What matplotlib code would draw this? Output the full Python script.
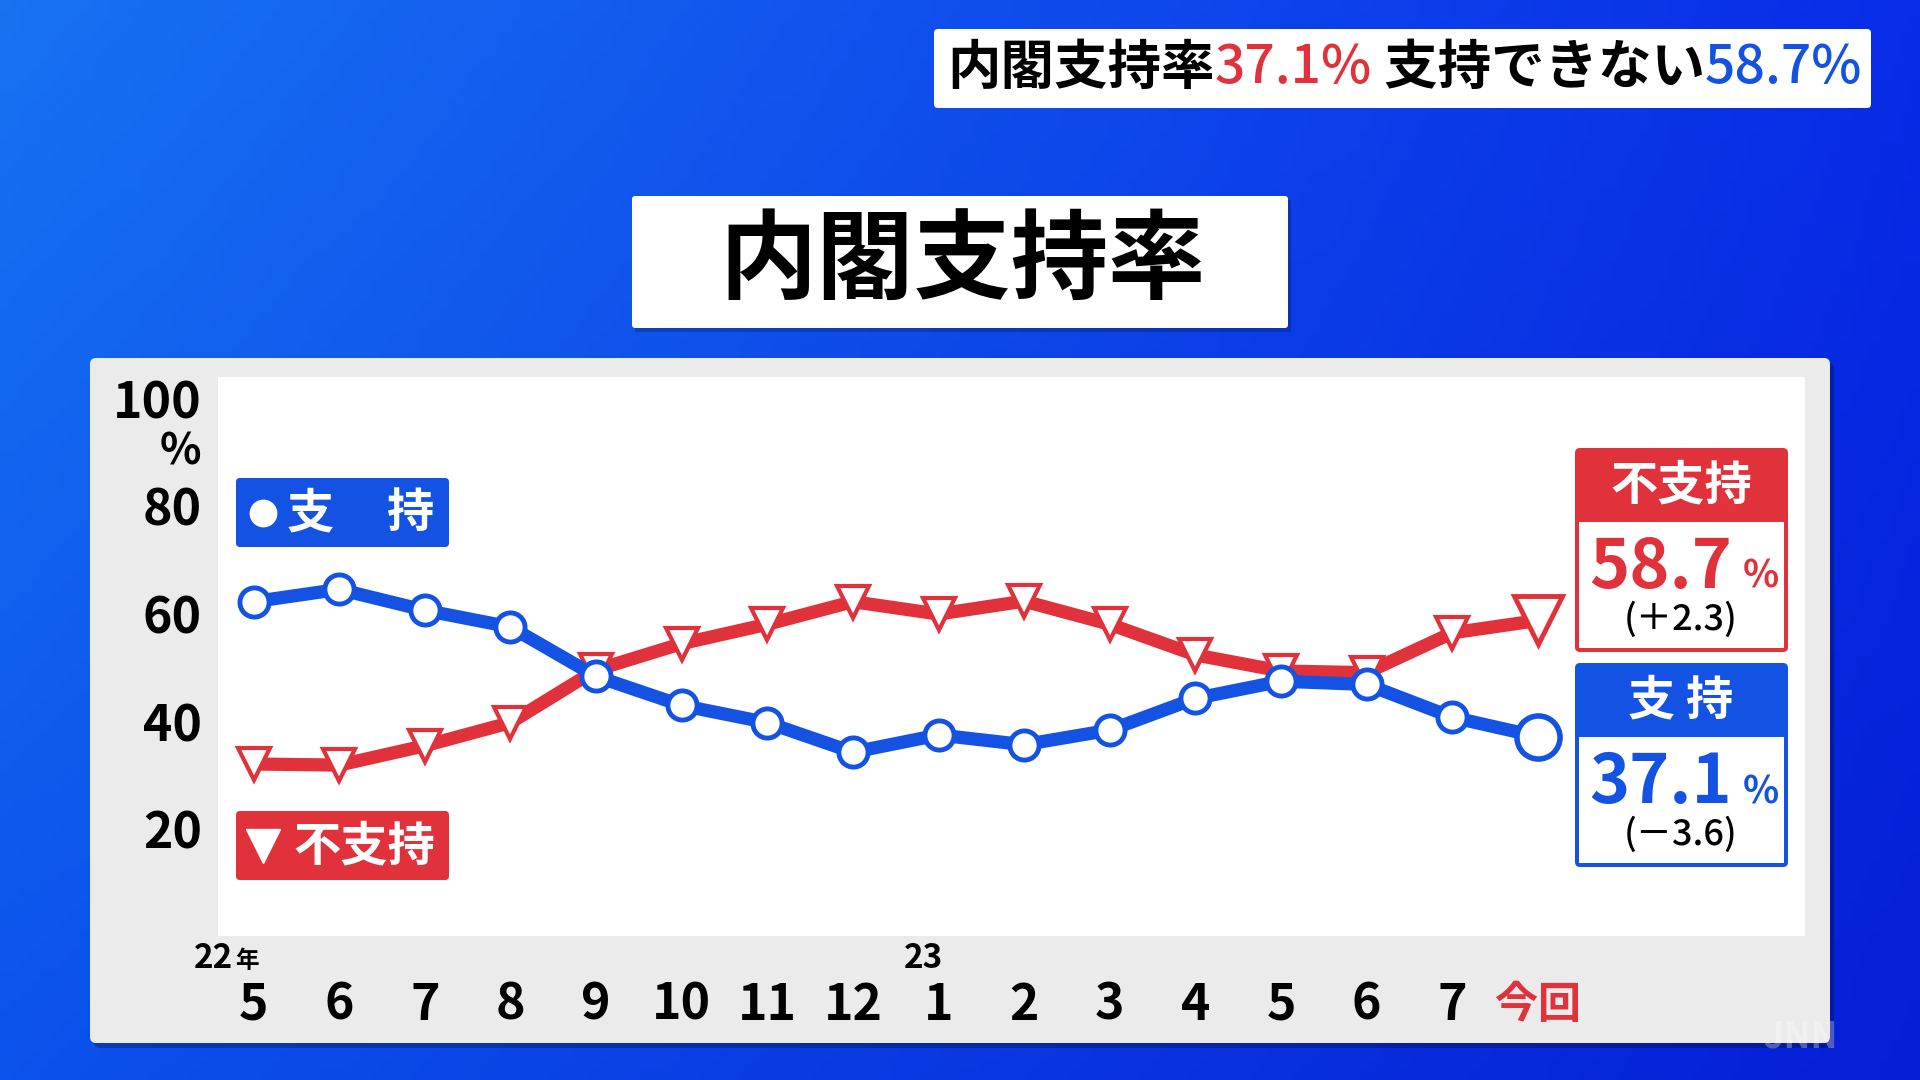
import numpy as np
import matplotlib.pyplot as plt
from matplotlib.patches import FancyBboxPatch, Rectangle

plt.rcParams['font.family'] = ['Noto Sans CJK JP', 'DejaVu Sans']

# ------------------------------------------------------------
# データ
# ------------------------------------------------------------
months = ["5", "6", "7", "8", "9", "10", "11", "12",
          "1", "2", "3", "4", "5", "6", "7", "今回"]
year_pos = [0, 8]
year_text = ["22", "23"]

support = [62.2, 64.5, 60.6, 57.5, 48.3, 42.9, 39.7, 34.2,
           37.4, 35.6, 38.3, 44.2, 47.4, 46.8, 40.7, 37.1]
disapprove = [32.0, 31.8, 35.4, 39.7, 49.5, 54.4, 58.0, 62.2,
              59.9, 62.3, 58.0, 52.3, 49.3, 49.0, 56.4, 58.7]

BLUE = "#1352e2"
RED = "#e1313b"
GRAY = "#ebebeb"

W, H = 1920, 1080

fig = plt.figure(figsize=(19.2, 10.8), dpi=100)

# ------------------------------------------------------------
# 背景 (青のグラデーション)
# ------------------------------------------------------------
bg = fig.add_axes([0, 0, 1, 1], zorder=0)
gx, gy = np.meshgrid(np.linspace(0, 1, 192), np.linspace(0, 1, 108))
c_tl = np.array([24, 114, 242])
c_tr = np.array([8, 44, 232])
c_bl = np.array([12, 82, 236])
c_br = np.array([6, 30, 215])
img = (c_tl * ((1 - gx) * (1 - gy))[..., None] + c_tr * (gx * (1 - gy))[..., None]
       + c_bl * ((1 - gx) * gy)[..., None] + c_br * (gx * gy)[..., None]) / 255
bg.imshow(img, extent=(0, W, H, 0), aspect='auto', zorder=0)
bg.set_xlim(0, W)
bg.set_ylim(H, 0)
bg.axis('off')

# パネル
bg.add_patch(FancyBboxPatch((94, 363), 1740, 685, boxstyle="round,pad=0,rounding_size=6",
                            fc="black", ec="none", alpha=0.25, zorder=1))
bg.add_patch(FancyBboxPatch((90, 358), 1740, 685, boxstyle="round,pad=0,rounding_size=6",
                            fc=GRAY, ec="none", zorder=2))

# タイトル
bg.add_patch(Rectangle((635, 200), 656, 132, fc="black", ec="none", alpha=0.2, zorder=2))
bg.add_patch(FancyBboxPatch((632, 196), 656, 132, boxstyle="round,pad=0,rounding_size=3",
                            fc="white", ec="none", zorder=3))
bg.text(962, 262, "内閣支持率", fontsize=70, fontweight='bold', color='black',
        ha='center', va='center', zorder=4)

# 右上の見出し
bg.add_patch(FancyBboxPatch((934, 29), 937, 79, boxstyle="round,pad=0,rounding_size=4",
                            fc="white", ec="none", zorder=3))
pieces = [("内閣支持率", "black", "bold"),
          (f"{support[-1]:.1f}%", RED, "medium"),
          (" 支持できない", "black", "bold"),
          (f"{disapprove[-1]:.1f}%", BLUE, "medium")]
t = bg.text(947, 68, pieces[0][0], fontsize=38.5, fontweight=pieces[0][2], color=pieces[0][1],
            ha='left', va='center', zorder=4)
for s, c, w in pieces[1:]:
    t = bg.annotate(s, xy=(1, 0.5), xycoords=t, fontsize=38.5, fontweight=w, color=c,
                    ha='left', va='center', zorder=4)

bg.text(1800, 1037, "JNN", fontsize=26, fontweight='bold', style='italic',
        color='white', alpha=0.3, ha='center', va='center', zorder=4)

# ------------------------------------------------------------
# グラフ
# ------------------------------------------------------------
ax = fig.add_axes([218 / W, 1 - 936 / H, (1805 - 218) / W, (936 - 377) / H], zorder=1)
ax.set_facecolor('white')
for sp in ax.spines.values():
    sp.set_visible(False)

x = np.arange(len(months))
n = len(months)

ax.plot(x, disapprove, color=RED, lw=9.5, marker='v', ms=23, mfc='white', mec=RED, mew=3,
        markevery=slice(0, n - 1), zorder=3)
ax.plot(x[-1], disapprove[-1], marker='v', ms=35, mfc='white', mec=RED, mew=3.5, zorder=3)

ax.plot(x, support, color=BLUE, lw=9.5, marker='o', ms=21, mfc='white', mec=BLUE, mew=3.5,
        markevery=slice(0, n - 1), zorder=4)
ax.plot(x[-1], support[-1], marker='o', ms=31, mfc='white', mec=BLUE, mew=4, zorder=4)

ax.set_xlim(-0.415, 18.12)
ax.set_ylim(0, 104)

ax.set_yticks([20, 40, 60, 80, 100])
ax.set_yticklabels(["20", "40", "60", "80", "100"], fontsize=36, fontweight='bold')
ax.tick_params(axis='y', length=0, pad=11.5)
ax.annotate("%", xy=(0, 100), xycoords=('axes fraction', 'data'), xytext=(-17, -53),
            textcoords='offset pixels', fontsize=31, fontweight='bold', ha='right', va='center')

ax.set_xticks(x)
ax.set_xticklabels(months, fontsize=36, fontweight='bold')
ax.tick_params(axis='x', length=0, pad=50)
for lab in ax.get_xticklabels():
    lab.set_va('center')
ax.get_xticklabels()[-1].set_color(RED)
ax.get_xticklabels()[-1].set_fontsize(31)

for p, s in zip(year_pos, year_text):
    ax.annotate(s, xy=(p, 0), xycoords=('data', 'axes fraction'), xytext=(-15 if p else -20, -23),
                textcoords='offset pixels', fontsize=24, fontweight='bold',
                ha='center' if p else 'right', va='center', annotation_clip=False)
ax.annotate("年", xy=(0, 0), xycoords=('data', 'axes fraction'), xytext=(-18, -25),
            textcoords='offset pixels', fontsize=17, fontweight='bold',
            ha='left', va='center', annotation_clip=False)

# ------------------------------------------------------------
# 凡例と結果ボックス
# ------------------------------------------------------------
top = fig.add_axes([0, 0, 1, 1], zorder=3)
top.set_xlim(0, W)
top.set_ylim(H, 0)
top.axis('off')

top.add_patch(FancyBboxPatch((236, 478), 213, 69, boxstyle="round,pad=0,rounding_size=4",
                             fc=BLUE, ec="none"))
top.plot(263, 513, 'o', ms=19, color='white')
top.text(310, 513, "支", fontsize=34, fontweight='bold', color='white', ha='center', va='center')
top.text(411, 513, "持", fontsize=34, fontweight='bold', color='white', ha='center', va='center')

top.add_patch(FancyBboxPatch((236, 811), 213, 69, boxstyle="round,pad=0,rounding_size=4",
                             fc=RED, ec="none"))
top.plot(263, 846, 'v', ms=25, color='white')
top.text(364, 846, "不支持", fontsize=34, fontweight='bold', color='white', ha='center', va='center')


def result_box(y0, color, head, value, diff):
    top.add_patch(FancyBboxPatch((1575, y0), 213, 204, boxstyle="round,pad=0,rounding_size=5",
                                 fc=color, ec="none"))
    top.add_patch(Rectangle((1579, y0 + 74), 205, 126, fc='white', ec='none'))
    top.text(1681, y0 + 37, head, fontsize=34, fontweight='bold', color='white',
             ha='center', va='center')
    top.text(1732, y0 + 140, f"{value:.1f}", fontsize=49, fontweight='bold', color=color,
             ha='right', va='baseline')
    top.text(1743, y0 + 140, "%", fontsize=27, fontweight='bold', color=color,
             ha='left', va='baseline')
    top.text(1681, y0 + 172, diff, fontsize=26, fontweight='medium', color='black',
             ha='center', va='center')


d_dis = disapprove[-1] - disapprove[-2]
d_sup = support[-1] - support[-2]
result_box(448, RED, "不支持", disapprove[-1], f"(＋{abs(d_dis):.1f})" if d_dis >= 0 else f"(－{abs(d_dis):.1f})")
result_box(663, BLUE, "支 持", support[-1], f"(＋{abs(d_sup):.1f})" if d_sup >= 0 else f"(－{abs(d_sup):.1f})")

fig.savefig("out.png", dpi=100)
